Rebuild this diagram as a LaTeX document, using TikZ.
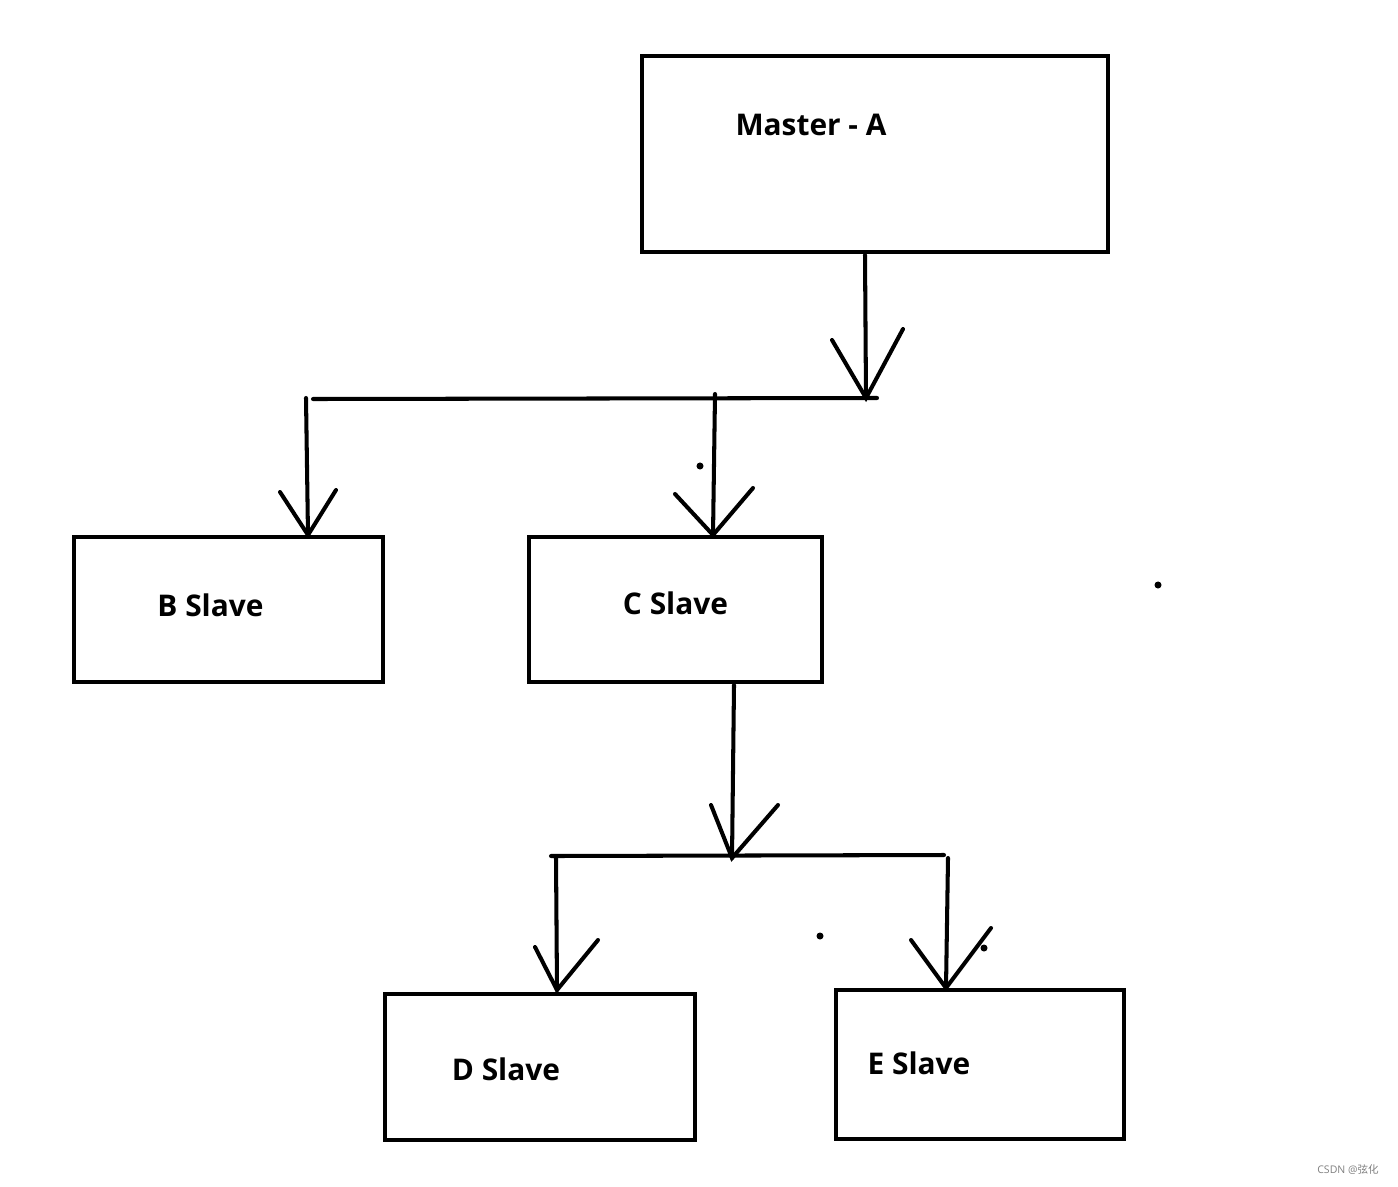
\documentclass[tikz,border=0pt]{standalone}
\usepackage{fontspec}
\setmainfont{Open Sans}
\newfontfamily\cjk{Noto Sans CJK SC}
\tikzset{
    box/.style={draw, rectangle, inner sep=0pt},
    lbl/.style={font=\fontsize{17}{20}\selectfont\bfseries, inner sep=0pt},
    speck/.style={fill, circle, inner sep=0pt, minimum size=4pt},
}
\begin{document}
\begin{tikzpicture}[x=0.02cm, y=-0.02cm, line width=2.3pt, line cap=round]
    \useasboundingbox (0,0) rectangle (1398,1186);
    % boxes
    \node[box, minimum width=9.32cm, minimum height=3.92cm] (A) at (875,154) {};
    \node[box, minimum width=6.18cm, minimum height=2.9cm] (B) at (228.5,609.5) {};
    \node[box, minimum width=5.86cm, minimum height=2.9cm] (C) at (675.5,609.5) {};
    \node[box, minimum width=6.2cm, minimum height=2.92cm] (D) at (540,1067) {};
    \node[box, minimum width=5.76cm, minimum height=2.98cm] (E) at (980,1064.5) {};
    \node[lbl] (At) at (811,125) {Master - A};
    \node[lbl] (Bt) at (210.5,605) {B Slave};
    \node[lbl] (Ct) at (675.5,603) {C Slave};
    \node[lbl] (Dt) at (506,1069) {D Slave};
    \node[lbl] (Et) at (919,1063) {E Slave};
    % first level
    \coordinate (a1) at (865,255);
    \coordinate (j1) at (866,398);
    \coordinate (h1l) at (313,399);
    \coordinate (h1r) at (877,398);
    \coordinate (b1) at (306,398);
    \coordinate (tb) at (308,535);
    \coordinate (c1) at (715,394);
    \coordinate (tc) at (713,535);
    \draw (a1) -- (j1);
    \draw (j1) ++(-34,-58) -- (j1) -- ++(37,-69);
    \draw (h1l) -- (h1r);
    \draw (b1) -- (tb);
    \draw (tb) ++(-28,-43) -- (tb) -- ++(28,-45);
    \draw (c1) -- (tc);
    \draw (tc) ++(-38,-41) -- (tc) -- ++(40,-47);
    % second level
    \coordinate (c2) at (734,685);
    \coordinate (j2) at (732,858);
    \coordinate (h2l) at (551,856);
    \coordinate (h2r) at (944,855);
    \coordinate (d1) at (556,858);
    \coordinate (td) at (557,990);
    \coordinate (e1) at (948,858);
    \coordinate (te) at (946,988);
    \draw (c2) -- (j2);
    \draw (j2) ++(-21,-53) -- (j2) -- ++(46,-53);
    \draw (h2l) -- (h2r);
    \draw (d1) -- (td);
    \draw (td) ++(-22,-43) -- (td) -- ++(41,-50);
    \draw (e1) -- (te);
    \draw (te) ++(-35,-48) -- (te) -- ++(45,-60);
    % stray specks
    \node[speck] (s1) at (700,466) {};
    \node[speck] (s2) at (1158,585) {};
    \node[speck] (s3) at (820,936) {};
    \node[speck] (s4) at (984,948) {};
    \node[font=\fontsize{6}{7}\selectfont, text=gray, inner sep=0pt] (wm) at (1348,1170) {CSDN @{\cjk 弦化}};
\end{tikzpicture}
\end{document}
